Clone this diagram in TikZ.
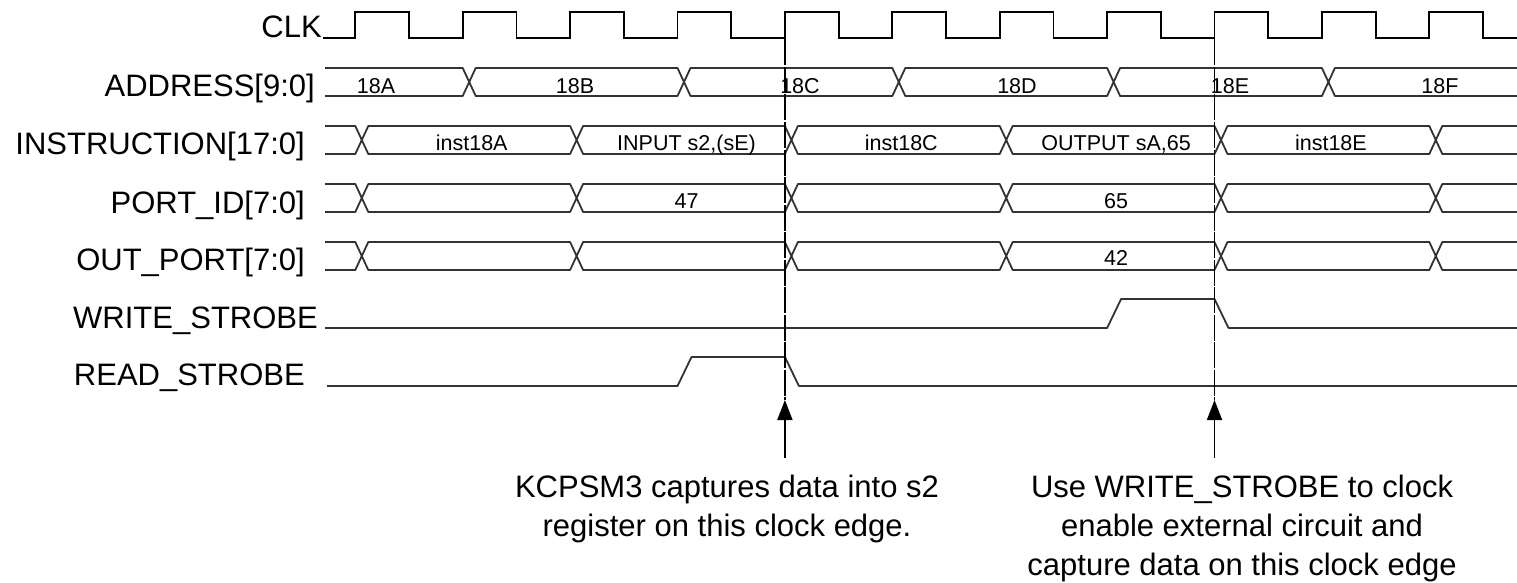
\documentclass[tikz,border=0pt]{standalone}
\usepackage{fontspec}
\setmainfont{Liberation Sans}
\usetikzlibrary{arrows.meta}
\newcommand{\edgex}[1]{355.3+107.4*(#1)}

\begin{document}
\begin{tikzpicture}[x = 1pt, y = -1pt,
	wave/.style = {line width = 1.8pt, black!80, line join = round},
	clk/.style = {line width = 1.8pt, black},
	edgeline/.style = {line width = 1.8pt, black, dash pattern = on 26pt off 1.5pt},
	capture/.style = {line width = 1.8pt, -{Triangle[width = 15pt, length = 20pt]}},
	sig/.style = {anchor = base east, inner sep = 0pt, font = \fontsize{31}{37}\selectfont},
	val/.style = {anchor = base, inner sep = 0pt, font = \fontsize{21.5}{25}\selectfont},
	note/.style = {anchor = base, inner sep = 0pt, align = center, font = \fontsize{31}{39}\selectfont}]
\useasboundingbox (0,0) rectangle (1517,583);
\foreach \nm/\txt/\xe/\yb in {clk/CLK/322/38, addr/ADDRESS[9:0]/315/97, inst/INSTRUCTION[17:0]/305/154,
	portid/PORT\_ID[7:0]/305/213, outport/OUT\_PORT[7:0]/305/270,
	wstrobe/WRITE\_STROBE/318/328, rstrobe/READ\_STROBE/305/385}
{
	\node[sig] (\nm) at (\xe,\yb) {\txt};
}
\draw[clk] (323,38) \foreach \k in {0,...,10}
{
	-- ({\edgex{\k}},38) -- ({\edgex{\k}},12) -- ({\edgex{\k}+53.7},12) -- ({\edgex{\k}+53.7},38)
} -- (1517,38);
\foreach \yt/\ks in {68/{1,3,5,7,9}, 126/{0,2,4,6,8,10}, 184/{0,2,4,6,8,10}, 242/{0,2,4,6,8,10}}
{
	\draw[wave] (325,\yt) \foreach \k in \ks
	{
		-- ({\edgex{\k}},\yt) -- ({\edgex{\k}+6.5},\yt+14) -- ({\edgex{\k}+13},\yt)
	} -- (1517,\yt);
	\draw[wave] (325,\yt+28) \foreach \k in \ks
	{
		-- ({\edgex{\k}},\yt+28) -- ({\edgex{\k}+6.5},\yt+14) -- ({\edgex{\k}+13},\yt+28)
	} -- (1517,\yt+28);
}
\draw[wave] (325,328) -- ({\edgex{7}},328) -- ({\edgex{7}+14},299) -- ({\edgex{8}},299) -- ({\edgex{8}+14},328) -- (1517,328);
\draw[wave] (327,386) -- ({\edgex{3}},386) -- ({\edgex{3}+14},357) -- ({\edgex{4}},357) -- ({\edgex{4}+14},386) -- (1517,386);
\foreach \x/\txt in {376/18A, 575/18B, 800/18C, 1017/18D, 1230/18E, 1440/18F}
{
	\node[val] (adr\txt) at (\x,94) {\txt};
}
\foreach \k/\txt in {1/inst18A, 3/{INPUT s2,(sE)}, 5/inst18C, 7/{OUTPUT sA,65}, 9/inst18E}
{
	\node[val] (ins\k) at ({\edgex{\k}+9},150) {\txt};
}
\node[val] (pid47) at ({\edgex{3}+9},208) {47};
\node[val] (pid65) at ({\edgex{7}+9},208) {65};
\node[val] (out42) at ({\edgex{7}+9},265) {42};
\foreach \k/\nm in {4/read, 8/write}
{
	\coordinate (top\nm) at ({\edgex{\k}},12);
	\coordinate (tip\nm) at ({\edgex{\k}},400);
	\coordinate (foot\nm) at ({\edgex{\k}},458);
	\draw[edgeline] (top\nm) -- (tip\nm);
	\draw[capture] (foot\nm) -- (tip\nm);
}
\node[note] (noteread) at (727,536) {KCPSM3 captures data into s2\\register on this clock edge.};
\node[note] (notewrite) at (1242,575) {Use WRITE\_STROBE to clock\\enable external circuit and\\capture data on this clock edge};
\end{tikzpicture}
\end{document}
